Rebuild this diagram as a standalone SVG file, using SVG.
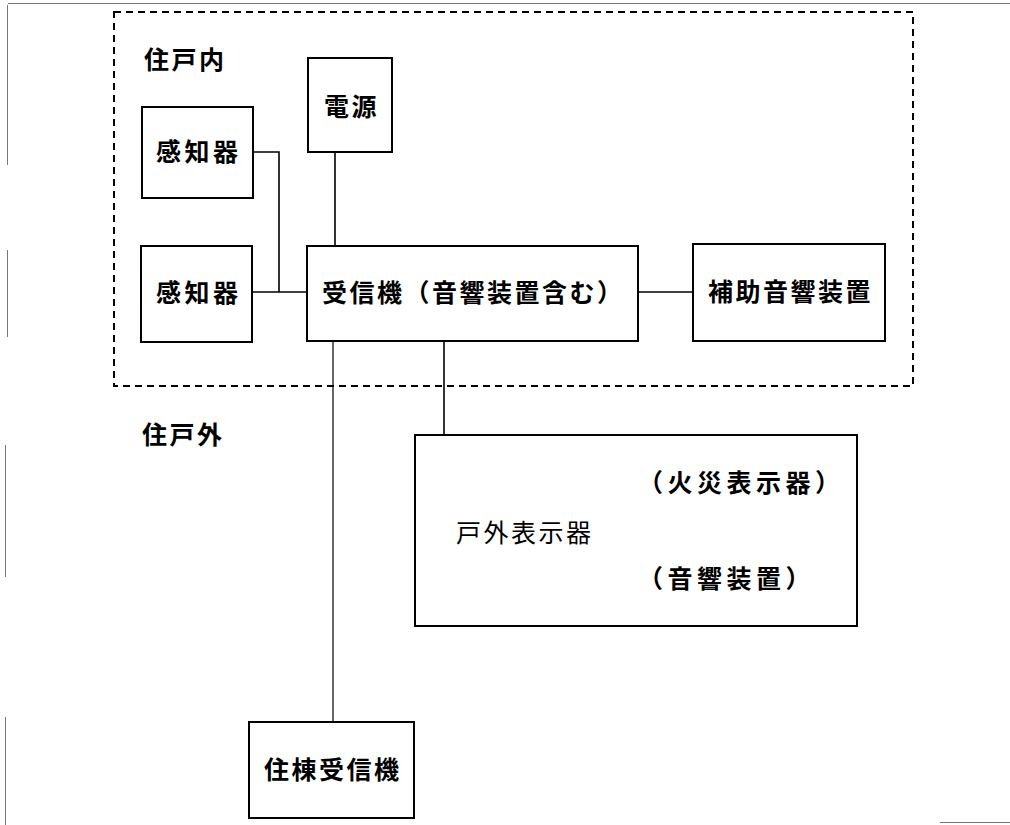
<svg xmlns="http://www.w3.org/2000/svg" width="1010" height="825" viewBox="0 0 1010 825">
<style>
.box{fill:#fff;stroke:#000;stroke-width:2}
.wire{fill:none;stroke:#000;stroke-width:1.6}
.thin{fill:none;stroke:#000;stroke-width:1.2}
.zone{fill:none;stroke:#000;stroke-width:2;stroke-dasharray:7 5}
.scan{fill:none;stroke:#777;stroke-width:1}
.t{font-family:"Noto Sans CJK JP","Noto Sans CJK SC",sans-serif;font-size:25px;font-weight:700;fill:#000;letter-spacing:2.5px}
.l{font-weight:400}
.p{letter-spacing:4.5px}
</style>
<rect width="1010" height="825" fill="#fff"/>
<g id="scan-edges">
<line class="scan" x1="8" y1="3.5" x2="1010" y2="3.5"/>
<line class="scan" x1="7.5" y1="5" x2="7.5" y2="165"/>
<line class="scan" x1="7.5" y1="250" x2="7.5" y2="337"/>
<line class="scan" x1="5.5" y1="445" x2="5.5" y2="577"/>
<line class="scan" x1="5.5" y1="717" x2="5.5" y2="825"/>
<line class="scan" x1="940" y1="822.5" x2="1010" y2="822.5"/>
</g>
<g id="zone-inside">
<rect class="zone" x="114" y="12" width="799" height="374"/>
<text class="t" x="144" y="69">住戸内</text>
</g>
<g id="zone-outside">
<text class="t" x="142" y="444">住戸外</text>
</g>
<g id="connectors">
<polyline class="wire" points="253,152 279,152 279,292"/>
<line class="wire" x1="252" y1="292" x2="307" y2="292"/>
<line class="wire" x1="335" y1="152" x2="335" y2="246"/>
<line class="wire" x1="638" y1="292" x2="693" y2="292"/>
<line class="thin" x1="333" y1="341" x2="333" y2="722"/>
<line class="wire" x1="444" y1="341" x2="444" y2="435"/>
</g>
<g id="power">
<rect class="box" x="308" y="58" width="84" height="94"/>
<text class="t" x="324" y="116">電源</text>
</g>
<g id="sensor1">
<rect class="box" x="142" y="107" width="111" height="91"/>
<text class="t" x="156" y="161" style="letter-spacing:3.5px">感知器</text>
</g>
<g id="sensor2">
<rect class="box" x="141" y="246" width="111" height="96"/>
<text class="t" x="156" y="302" style="letter-spacing:3.5px">感知器</text>
</g>
<g id="receiver">
<rect class="box" x="307" y="246" width="331" height="95"/>
<text class="t" x="322" y="302">受信機（音響装置含む）</text>
</g>
<g id="aux-sounder">
<rect class="box" x="693" y="244" width="192" height="97"/>
<text class="t" x="708" y="301">補助音響装置</text>
</g>
<g id="outdoor-display">
<rect class="box" x="415" y="435" width="442" height="191"/>
<text class="t p" x="638" y="492">（火災表示器）</text>
<text class="t l" x="456" y="542">戸外表示器</text>
<text class="t p" x="638" y="588">（音響装置）</text>
</g>
<g id="building-receiver">
<rect class="box" x="249" y="722" width="165" height="96"/>
<text class="t" x="264" y="779">住棟受信機</text>
</g>
</svg>
